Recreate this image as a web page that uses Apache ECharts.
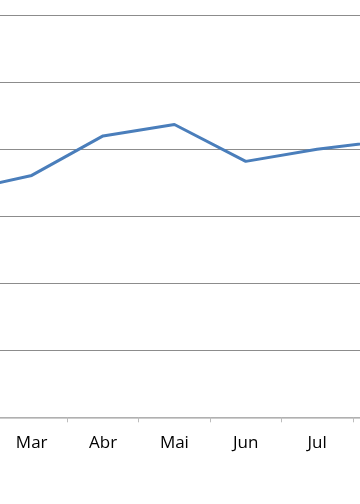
<!DOCTYPE html>
<html>
<head>
<meta charset="utf-8">
<script src="https://cdn.jsdelivr.net/npm/echarts@6/dist/echarts.min.js"></script>
<style>
html,body{margin:0;padding:0;background:#fff;}
#c{width:360px;height:504px;}
</style>
</head>
<body>
<div id="c"></div>
<script>
var categories = ['Fev', 'Mar', 'Abr', 'Mai', 'Jun', 'Jul', 'Ago'];
var values = [33.7, 36.1, 42.0, 43.7, 38.2, 40.0, 41.3];
var yMin = 0, yMax = 60, yStep = 10;

var chart = echarts.init(document.getElementById('c'), null, {renderer: 'canvas'});
chart.setOption({
  animation: false,
  backgroundColor: '#ffffff',
  grid: {left: -75.3, right: -64.1, top: 15.3, bottom: 86.7, containLabel: false, outerBoundsMode: 'none'},
  xAxis: {
    type: 'category',
    data: categories,
    boundaryGap: true,
    axisLine: {show: true, lineStyle: {color: '#bdbdbd', width: 1.5}},
    axisTick: {show: true, length: 5, lineStyle: {color: '#bdbdbd', width: 1}},
    axisLabel: {color: '#000', fontFamily: 'Open Sans', fontSize: 17, margin: 17}
  },
  yAxis: {
    type: 'value',
    min: yMin, max: yMax, interval: yStep,
    axisLine: {show: false},
    axisTick: {show: false},
    axisLabel: {show: false},
    splitLine: {show: true, lineStyle: {color: '#8c8c8c', width: 1}}
  },
  series: [{
    type: 'line',
    data: values,
    symbol: 'none',
    smooth: false,
    lineStyle: {color: '#4a7ebb', width: 3},
    itemStyle: {color: '#4a7ebb'}
  }]
});
</script>
</body>
</html>
